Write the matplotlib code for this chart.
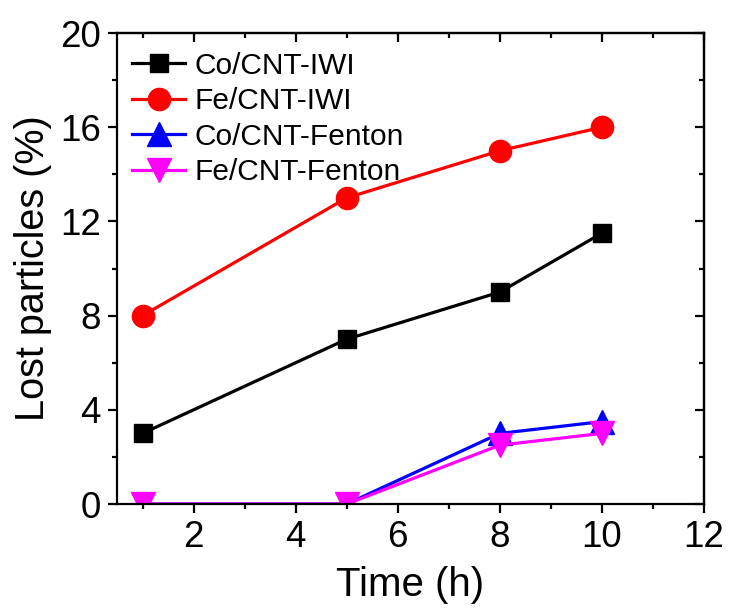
import matplotlib
matplotlib.use("Agg")
import matplotlib.pyplot as plt
from matplotlib.ticker import MultipleLocator

plt.rcParams['font.family'] = ['Liberation Sans', 'DejaVu Sans']

time_h = [1, 5, 8, 10]
co_iwi = [3, 7, 9, 11.5]
fe_iwi = [8, 13, 15, 16]
co_fenton = [0, 0, 3, 3.5]
fe_fenton = [0, 0, 2.5, 3]

labels = ["Co/CNT-IWI", "Fe/CNT-IWI", "Co/CNT-Fenton", "Fe/CNT-Fenton"]
colors = ["#000000", "#ff0000", "#0000ff", "#ff00ff"]
markers = ["s", "o", "^", "v"]
msizes = [13, 16, 17, 17]

fig = plt.figure(figsize=(7.29, 6.08), dpi=100)
ax = fig.add_axes([0.1605, 0.171, 0.8052, 0.7747])

for y, lab, c, m, ms in zip([co_iwi, fe_iwi, co_fenton, fe_fenton],
                            labels, colors, markers, msizes):
    ax.plot(time_h, y, color=c, marker=m, markersize=ms, linewidth=2.3,
            label=lab)

ax.set_xlim(0.5, 12)
ax.set_ylim(0, 20)
ax.xaxis.set_major_locator(MultipleLocator(2))
ax.xaxis.set_minor_locator(MultipleLocator(1))
ax.yaxis.set_major_locator(MultipleLocator(4))
ax.yaxis.set_minor_locator(MultipleLocator(2))

for s in ax.spines.values():
    s.set_linewidth(1.6)

ax.tick_params(which='major', direction='out', length=6.5, width=1.6,
               labelsize=26.5, pad=5)
ax.tick_params(which='minor', direction='out', length=3.5, width=1.6)

# inward ticks on the top and right frame
top = ax.secondary_xaxis('top')
top.xaxis.set_major_locator(MultipleLocator(2))
top.xaxis.set_minor_locator(MultipleLocator(1))
top.tick_params(which='major', direction='in', length=6.5, width=1.6,
                labeltop=False)
top.tick_params(which='minor', direction='in', length=3.5, width=1.6)
right = ax.secondary_yaxis('right')
right.yaxis.set_major_locator(MultipleLocator(4))
right.yaxis.set_minor_locator(MultipleLocator(2))
right.tick_params(which='major', direction='in', length=6.5, width=1.6,
                  labelright=False)
right.tick_params(which='minor', direction='in', length=3.5, width=1.6)
for sa in (top, right):
    for s in sa.spines.values():
        s.set_linewidth(1.6)

ax.set_xlabel("Time (h)", fontsize=29, labelpad=8)
ax.set_ylabel("Lost particles (%)", fontsize=28.5, labelpad=6)

ax.legend(loc='upper left', bbox_to_anchor=(0.026, 0.96), frameon=False,
          fontsize=21.5, borderpad=0, borderaxespad=0, handlelength=1.77,
          handletextpad=0.33, labelspacing=0.25)

fig.savefig("out.png", dpi=100)
